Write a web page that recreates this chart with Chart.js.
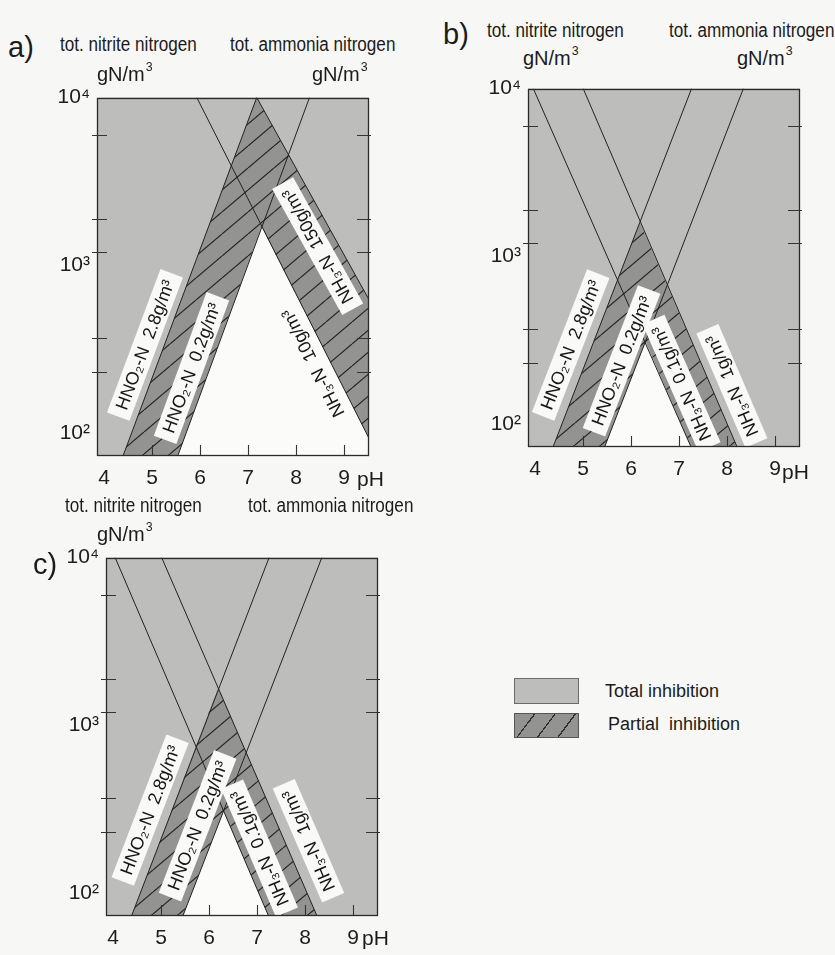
<!DOCTYPE html>
<html><head><meta charset="utf-8">
<script src="https://cdn.jsdelivr.net/npm/chart.js@4"></script>
<style>
html,body{margin:0;padding:0}
body{background:#f7f7f6;width:835px;height:955px;overflow:hidden;position:relative;font-family:"Liberation Sans",Arial,sans-serif;color:#1b1b1b}
.t{position:absolute;white-space:nowrap;line-height:1}
canvas{position:absolute}
.box{position:absolute}
</style></head><body>
<script>
// ---------- data ----------
const pHTicks = [4, 5, 6, 7, 8, 9];
const pHTickLabels = ['4', '5', '6', '7', '8', '9'];
const pHInnerTicks = [5, 6, 7, 8, 9];
const concTicks = [100, 1000, 10000];
const concTickLabels = ['10²', '10³', '10⁴'];
const concInnerTicks = [230, 370, 1200, 1900, 6000];
const pHLimits = [3.85, 9.52];
const concLimits = [74, 10000];

// panel a) : [pH, gN/m3]
const a_HNO2_28 = [[4.40, 74], [7.18, 10000]];
const a_HNO2_02 = [[5.54, 74], [8.28, 10000]];
const a_NH3_150 = [[7.18, 10000], [9.52, 624]];
const a_NH3_10  = [[5.93, 10000], [9.52, 93]];
const a_partial = [[4.40, 74], [7.18, 10000], [9.52, 624]];
const a_none    = [[5.54, 74], [7.28, 1690], [9.52, 93]];

// panel b)
const b_HNO2_28 = [[4.38, 74], [7.26, 10000]];
const b_HNO2_02 = [[5.455, 74], [8.34, 10000]];
const b_NH3_1   = [[5.00, 10000], [8.20, 74]];
const b_NH3_01  = [[3.96, 10000], [7.24, 74]];
const b_partial = [[4.38, 74], [6.18, 1590], [8.20, 74]];
const b_none    = [[5.455, 74], [6.30, 309], [7.24, 74]];

// panel c)
const c_HNO2_28 = [[4.39, 74], [7.25, 10000]];
const c_HNO2_02 = [[5.46, 74], [8.35, 10000]];
const c_NH3_1   = [[5.01, 10000], [8.24, 74]];
const c_NH3_01  = [[4.04, 10000], [7.23, 74]];
const c_partial = [[4.39, 74], [6.19, 1680], [8.24, 74]];
const c_none    = [[5.46, 74], [6.30, 308], [7.23, 74]];

// ---------- styles ----------
const FONT = '"Liberation Sans", Arial, sans-serif';
const TOTAL = '#bdbdbb';
const PARTIAL = '#939392';
const NONE = '#fbfbfa';
const INK = '#222222';

function makeHatch(){
  const w = 26, h = 22;
  const c = document.createElement('canvas'); c.width = w; c.height = h;
  const g = c.getContext('2d');
  g.fillStyle = PARTIAL; g.fillRect(0, 0, w, h);
  g.strokeStyle = '#262626'; g.lineWidth = 1.2;
  g.beginPath();
  for (const o of [-w, 0, w]) { g.moveTo(o, h); g.lineTo(o + w, 0); }
  g.stroke();
  return document.createElement('canvas').getContext('2d').createPattern(c, 'repeat');
}
const HATCH = makeHatch();

const panels = [
  { left: 40, top: 80,
    lines: [a_HNO2_28, a_HNO2_02, a_NH3_150, a_NH3_10], partial: a_partial, none: a_none,
    labels: [
      { text: 'HNO₂-N  2.8g/m³', at: [4.85, 335], line: 0, box: true },
      { text: 'HNO₂-N  0.2g/m³', at: [5.82, 244], line: 1, box: true },
      { text: 'NH₃-N  150g/m³', at: [8.45, 1300], line: 2, box: true },
      { text: 'NH₃-N  10g/m³', at: [8.35, 261], line: 3, box: false }
    ] },
  { left: 471, top: 71,
    lines: [b_HNO2_28, b_HNO2_02, b_NH3_1, b_NH3_01], partial: b_partial, none: b_none,
    labels: [
      { text: 'HNO₂-N  2.8g/m³', at: [4.74, 296], line: 0, box: true },
      { text: 'HNO₂-N  0.2g/m³', at: [5.80, 238], line: 1, box: true },
      { text: 'NH₃-N  0.1g/m³', at: [7.05, 175], line: 3, box: true },
      { text: 'NH₃-N  1g/m³', at: [8.10, 169], line: 2, box: true }
    ] },
  { left: 49, top: 540,
    lines: [c_HNO2_28, c_HNO2_02, c_NH3_1, c_NH3_01], partial: c_partial, none: c_none,
    labels: [
      { text: 'HNO₂-N  2.8g/m³', at: [4.77, 312], line: 0, box: true },
      { text: 'HNO₂-N  0.2g/m³', at: [5.76, 252], line: 1, box: true },
      { text: 'NH₃-N  0.1g/m³', at: [7.05, 185], line: 3, box: true },
      { text: 'NH₃-N  1g/m³', at: [8.07, 205], line: 2, box: true }
    ] }
];

function decoPlugin(p){
  return {
    id: 'deco',
    beforeDatasetsDraw(ch){
      const { ctx, chartArea: a } = ch;
      ctx.save(); ctx.fillStyle = TOTAL;
      ctx.fillRect(a.left, a.top, a.right - a.left, a.bottom - a.top);
      ctx.restore();
    },
    afterDatasetsDraw(ch){
      const { ctx, chartArea: a } = ch; const xs = ch.scales.x, ys = ch.scales.y;
      ctx.save();
      ctx.beginPath(); ctx.rect(a.left, a.top, a.right - a.left, a.bottom - a.top); ctx.clip();
      ctx.font = '18px ' + FONT; ctx.textAlign = 'center'; ctx.textBaseline = 'middle';
      p.labels.forEach(L => {
        let [q0, q1] = p.lines[L.line];
        if (q0[1] > q1[1]) [q0, q1] = [q1, q0];
        const x0 = xs.getPixelForValue(q0[0]), y0 = ys.getPixelForValue(q0[1]);
        const x1 = xs.getPixelForValue(q1[0]), y1 = ys.getPixelForValue(q1[1]);
        const ang = Math.atan2(y1 - y0, x1 - x0);
        const cx = xs.getPixelForValue(L.at[0]), cy = ys.getPixelForValue(L.at[1]);
        const w = ctx.measureText(L.text).width + 16, h = 24;
        ctx.save(); ctx.translate(cx, cy); ctx.rotate(ang);
        if (L.box) { ctx.fillStyle = '#f9f9f8'; ctx.fillRect(-w / 2, -h / 2, w, h); }
        ctx.fillStyle = '#161616'; ctx.fillText(L.text, 0, 1);
        ctx.restore();
      });
      ctx.restore();
      // frame
      ctx.save();
      ctx.strokeStyle = '#2a2a2a'; ctx.lineWidth = 1.3;
      ctx.strokeRect(Math.round(a.left) + 0.5, Math.round(a.top) + 0.5,
                     Math.round(a.right - a.left) - 1, Math.round(a.bottom - a.top) - 1);
      ctx.lineWidth = 1.1; ctx.strokeStyle = '#333';
      ctx.beginPath();
      concInnerTicks.forEach(v => {
        const py = Math.round(ys.getPixelForValue(v)) + 0.5;
        ctx.moveTo(a.left - 5, py); ctx.lineTo(a.left + 10, py);
        ctx.moveTo(a.right - 12, py); ctx.lineTo(a.right + 2, py);
      });
      pHInnerTicks.forEach(v => {
        const px = Math.round(xs.getPixelForValue(v)) + 0.5;
        ctx.moveTo(px, a.bottom); ctx.lineTo(px, a.bottom - 10);
      });
      ctx.stroke();
      ctx.restore();
    }
  };
}

function makeChart(p){
  const cv = document.createElement('canvas');
  cv.width = 344; cv.height = 415;
  cv.style.left = p.left + 'px'; cv.style.top = p.top + 'px';
  document.body.appendChild(cv);
  const pts = arr => arr.map(([x, y]) => ({ x, y }));
  const ds = [];
  p.lines.forEach(l => ds.push({ data: pts(l), borderColor: INK, borderWidth: 1, pointRadius: 0, fill: false, order: 0, tension: 0 }));
  ds.push({ data: pts(p.none), borderColor: 'rgba(0,0,0,0)', borderWidth: 0, pointRadius: 0, fill: 'start', backgroundColor: NONE, order: 1, tension: 0 });
  ds.push({ data: pts(p.partial), borderColor: 'rgba(0,0,0,0)', borderWidth: 0, pointRadius: 0, fill: 'start', backgroundColor: HATCH, order: 2, tension: 0 });
  new Chart(cv, {
    type: 'line',
    data: { datasets: ds },
    options: {
      responsive: false, animation: false, events: [],
      layout: { padding: { top: 11, right: 15, left: 0, bottom: 0 } },
      plugins: { legend: { display: false }, tooltip: { enabled: false } },
      scales: {
        x: {
          type: 'linear', min: pHLimits[0], max: pHLimits[1], bounds: 'data',
          grid: { display: false, drawTicks: false }, border: { display: false },
          afterBuildTicks: s => { s.ticks = pHTicks.map(v => ({ value: v })); },
          afterFit: s => { s.height = 40; },
          ticks: { autoSkip: false, maxRotation: 0, padding: 13, color: '#1d1d1d',
                   font: { family: FONT, size: 21, lineHeight: 1 },
                   callback: v => { const i = pHTicks.indexOf(v); return i < 0 ? '' : pHTickLabels[i]; } }
        },
        y: {
          type: 'logarithmic', min: concLimits[0], max: concLimits[1], bounds: 'data',
          grid: { display: false, drawTicks: false }, border: { display: false },
          afterBuildTicks: s => { s.ticks = concTicks.map(v => ({ value: v })); },
          afterFit: s => { s.width = 57; },
          ticks: { autoSkip: false, padding: 7, color: '#1d1d1d',
                   font: { family: FONT, size: 21, lineHeight: 1 },
                   callback: v => { const i = concTicks.indexOf(v); return i < 0 ? '' : concTickLabels[i]; } }
        }
      }
    },
    plugins: [decoPlugin(p)]
  });
}
panels.forEach(makeChart);

// ---------- text ----------
function txt(html, x, base, fs, sx){
  const d = document.createElement('div'); d.className = 't';
  d.innerHTML = html;
  d.style.left = x + 'px'; d.style.top = (base - 0.8465 * fs) + 'px'; d.style.fontSize = fs + 'px';
  if (sx) { d.style.transform = 'scaleX(' + sx + ')'; d.style.transformOrigin = '0 0'; }
  document.body.appendChild(d);
}
const S3 = '<span style="font-size:0.62em;position:relative;top:-0.78em;margin-left:1px">3</span>';
const UNIT = 'gN/m' + S3;
// a)
txt('a)', 8, 58, 29);
txt('tot. nitrite nitrogen', 60, 51, 20, 0.855);
txt('tot. ammonia nitrogen', 230, 51, 20, 0.855);
txt(UNIT, 97, 81, 20);
txt(UNIT, 312, 81, 20);
txt('pH', 357, 486, 21);
// b)
txt('b)', 443, 45, 29);
txt('tot. nitrite nitrogen', 487, 37, 20, 0.855);
txt('tot. ammonia nitrogen', 669, 37, 20, 0.855);
txt(UNIT, 523, 65, 20);
txt(UNIT, 737, 65, 20);
txt('pH', 782, 479, 21);
// c)
txt('tot. nitrite nitrogen', 65, 512, 20, 0.855);
txt('tot. ammonia nitrogen', 248, 512, 20, 0.855);
txt(UNIT, 97, 541, 20);
txt('c)', 33, 575, 29);
txt('pH', 362, 945, 21);
// legend
const lg1 = document.createElement('div'); lg1.className = 'box';
Object.assign(lg1.style, { left: '514px', top: '678px', width: '63px', height: '24px', background: TOTAL, border: '1px solid #6a6a6a' });
document.body.appendChild(lg1);
const lg2 = document.createElement('div'); lg2.className = 'box';
Object.assign(lg2.style, { left: '514px', top: '713px', width: '63px', height: '23px', border: '1px solid #555',
  background: 'repeating-linear-gradient(127deg, ' + PARTIAL + ' 0px, ' + PARTIAL + ' 15px, #2e2e2e 15px, #2e2e2e 16.3px)' });
document.body.appendChild(lg2);
txt('Total inhibition', 605, 697, 18);
txt('Partial&nbsp; inhibition', 608, 730, 18);
</script>
</body></html>
